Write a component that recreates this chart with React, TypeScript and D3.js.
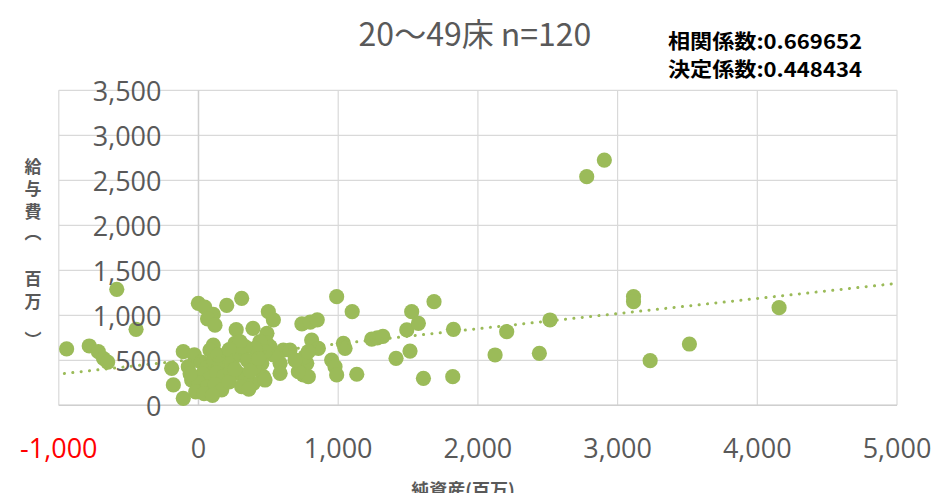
import React from "react";
import * as d3 from "d3";

// ---- data ----
const netAssets: number[] = [
  -944, -782, -717, -680, -650, -585, -447, -192, -180, -109,
  -109, -73, -49, -1, 45, 106, 65, 118, 202, 309,
  270, 390, 500, 536, 490, 488, 740, 800, 850, 989,
  1100, 810, 858, 1037, 1049, 953, 977, 989, 1133, 1240,
  1280, 1320, 1414, 1491, 1514, 1526, 1574, 1610, 1686, 1825,
  1820, 2123, 2206, 2440, 2516, 2779, 2905, 3114, 3114, 3233,
  3514, 4156, 512, 440, 607, 655, 584, 464, 392, 775,
  750, 786, 762, 786, 715, 691, 536, 476, 453, 476,
  584, 405, 333, 261, 297, 106, 82, -30, 20, 60,
  110, 150, 200, 240, 300, 350, 400, 30, 80, 130,
  180, 230, 285, 340, 0, 60, 120, 166, 220, 309,
  360, -20, 40, 100, 260, 370, -60, 140, 220, 430,
];
const salaryCosts: number[] = [
  626, 659, 596, 520, 480, 1289, 844, 411, 226, 78,
  596, 429, 281, 1133, 1090, 1010, 960, 890, 1110, 1189,
  840, 855, 1040, 950, 800, 690, 905, 925, 950, 1207,
  1040, 725, 633, 689, 633, 503, 429, 337, 345, 735,
  750, 765, 522, 837, 603, 1040, 911, 300, 1151, 844,
  318, 559, 818, 578, 948, 2540, 2725, 1207, 1151, 496,
  681, 1085, 651, 707, 614, 614, 467, 318, 244, 467,
  337, 318, 540, 596, 373, 503, 559, 596, 467, 281,
  355, 633, 651, 689, 707, 670, 614, 560, 480, 420,
  500, 440, 540, 470, 560, 500, 420, 350, 300, 360,
  320, 380, 355, 300, 250, 200, 230, 170, 260, 207,
  180, 150, 130, 110, 400, 380, 350, 560, 620, 520,
];
const trendIntercept = 515;
const trendSlope = 0.168;

const xTicks: number[] = [-1000, 0, 1000, 2000, 3000, 4000, 5000];
const xTickLabels: string[] = ["-1,000", "0", "1,000", "2,000", "3,000", "4,000", "5,000"];
const yTicks: number[] = [0, 500, 1000, 1500, 2000, 2500, 3000, 3500];
const yTickLabels: string[] = ["0", "500", "1,000", "1,500", "2,000", "2,500", "3,000", "3,500"];

const titleText = "20～49床 n=120";
const statLines: string[] = ["相関係数:0.669652", "決定係数:0.448434"];
const yTitleChars: string[] = ["給", "与", "費", "︵", "百", "万", "︶"];
const xTitle = "純資産(百万)";

const W = 934;
const H = 493;
const CJK = "'Noto Sans CJK JP', 'Noto Sans', sans-serif";
const NUM = "'Open Sans', 'Noto Sans', sans-serif";
const GRAY = "#595959";
const GREEN = "#9BBB59";

export default function App() {
  const x = d3.scaleLinear().domain([-1000, 5000]).range([58.8, 897]);
  const y = d3.scaleLinear().domain([0, 3500]).range([405.3, 90.3]);
  const pts = netAssets.map((v, i) => [v, salaryCosts[i]] as [number, number]);
  const trend = d3
    .line<number>()
    .x((d) => x(d))
    .y((d) => y(trendIntercept + trendSlope * d));
  const yTitleOffsets = [0, 22, 45, 66, 112, 135, 173];

  return (
    <svg
      width={W}
      height={H}
      style={{ position: "absolute", left: 0, top: 0, background: "#fff" }}
    >
      <rect x={0} y={0} width={W} height={H} fill="#fff" />
      {/* gridlines */}
      {yTicks.map((t) => (
        <line key={"gy" + t} x1={x(-1000)} x2={x(5000)} y1={y(t)} y2={y(t)} stroke="#d9d9d9" strokeWidth={1.2} />
      ))}
      {xTicks.map((t) => (
        <line key={"gx" + t} x1={x(t)} x2={x(t)} y1={y(0)} y2={y(3500)} stroke="#d9d9d9" strokeWidth={1.2} />
      ))}
      <line x1={x(0)} x2={x(0)} y1={y(0)} y2={y(3500)} stroke="#cfcfcf" strokeWidth={1.4} />
      <line x1={x(-1000)} x2={x(5000)} y1={y(0)} y2={y(0)} stroke="#cfcfcf" strokeWidth={1.4} />

      {/* points */}
      {pts.map((p, i) => (
        <circle key={"p" + i} cx={x(p[0])} cy={y(p[1])} r={7.6} fill={GREEN} />
      ))}

      {/* trend line */}
      <path
        d={trend([-960, 5000]) || ""}
        fill="none"
        stroke={GREEN}
        strokeWidth={3}
        strokeLinecap="round"
        strokeDasharray="0.1 8.3"
      />

      {/* y tick labels */}
      {yTicks.map((t, i) => (
        <text
          key={"yl" + t}
          x={x(0) - 37}
          y={y(t)}
          textAnchor="end"
          dominantBaseline="central"
          fontFamily={NUM}
          fontSize={27}
          fill={GRAY}
        >
          {yTickLabels[i]}
        </text>
      ))}
      {/* x tick labels */}
      {xTicks.map((t, i) => (
        <text
          key={"xl" + t}
          x={x(t)}
          y={447}
          textAnchor="middle"
          dominantBaseline="central"
          fontFamily={NUM}
          fontSize={27}
          fill={t < 0 ? "#ff0000" : GRAY}
        >
          {xTickLabels[i]}
        </text>
      ))}

      {/* title */}
      <text x={475} y={32} textAnchor="middle" dominantBaseline="central" fontFamily={CJK} fontSize={32} fill={GRAY}>
        {titleText}
      </text>
      {statLines.map((s, i) => (
        <text
          key={"s" + i}
          x={668}
          y={40 + i * 28}
          dominantBaseline="central"
          fontFamily={CJK}
          fontSize={20}
          fontWeight="bold"
          fill="#000"
          textLength={194}
          lengthAdjust="spacingAndGlyphs"
        >
          {s}
        </text>
      ))}

      {/* y axis title */}
      {yTitleChars.map((c, i) => (
        <text
          key={"yt" + i}
          x={33}
          y={165 + yTitleOffsets[i]}
          textAnchor="middle"
          dominantBaseline="central"
          fontFamily={CJK}
          fontSize={17}
          fontWeight="bold"
          fill={GRAY}
        >
          {c}
        </text>
      ))}

      {/* x axis title */}
      <text x={463} y={489} textAnchor="middle" dominantBaseline="central" fontFamily={CJK} fontSize={18} fontWeight="bold" fill={GRAY}>
        {xTitle}
      </text>
    </svg>
  );
}
